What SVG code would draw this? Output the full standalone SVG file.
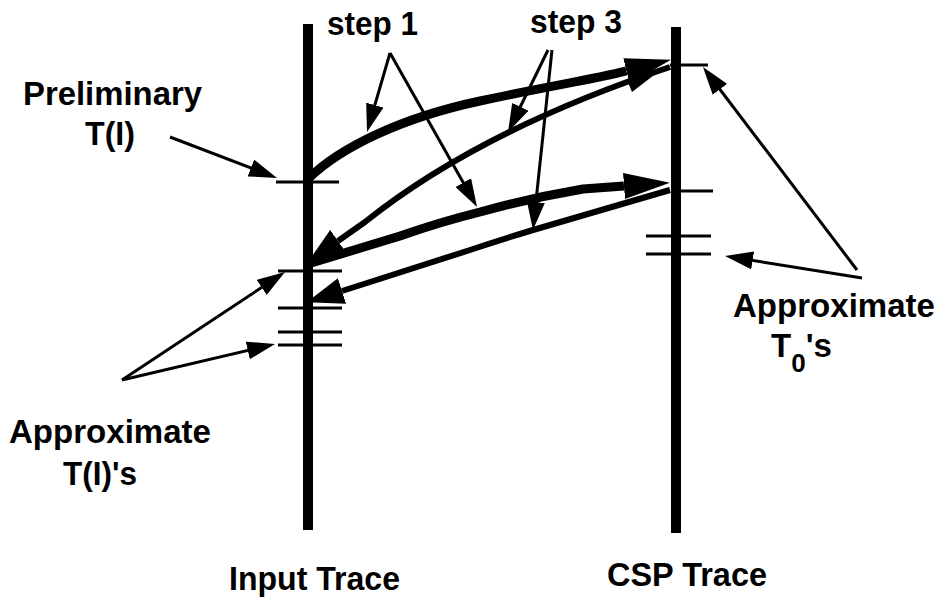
<svg xmlns="http://www.w3.org/2000/svg" width="938" height="597" viewBox="0 0 938 597">
<style>
.txt{font-family:"Liberation Sans",Arial,sans-serif;font-weight:bold;font-size:33px;fill:#000}
.trace{stroke:#000;stroke-width:10;fill:none}
.tick{stroke:#000;stroke-width:3;fill:none}
.thick{stroke:#000;stroke-width:9;fill:none;stroke-linejoin:round;marker-end:url(#bigHead)}
.thin{stroke:#000;stroke-width:6;fill:none;stroke-linejoin:round;marker-end:url(#midHead)}
.lab{stroke:#000;stroke-width:3;fill:none;marker-end:url(#labHead)}
</style>
<defs>
<marker id="bigHead" viewBox="0 0 46 26" refX="0" refY="13" markerWidth="46" markerHeight="26" markerUnits="userSpaceOnUse" orient="auto"><path d="M0,0 L46,13 L0,26 z" fill="#000"/></marker>
<marker id="midHead" viewBox="0 0 37 27" refX="0" refY="13.5" markerWidth="37" markerHeight="27" markerUnits="userSpaceOnUse" orient="auto"><path d="M0,0 L37,13.5 L0,27 z" fill="#000"/></marker>
<marker id="labHead" viewBox="0 0 28 18" refX="18" refY="9" markerWidth="28" markerHeight="18" markerUnits="userSpaceOnUse" orient="auto"><path d="M0,0 L28,9 L0,18 z" fill="#000"/></marker>
</defs>
<rect width="938" height="597" fill="#fff"/>

<g id="input-trace">
<line class="trace" x1="308" y1="24" x2="308" y2="530"/>
<line class="tick" x1="276" y1="182" x2="339" y2="182"/>
<line class="tick" x1="278" y1="271" x2="342" y2="271"/>
<line class="tick" x1="278" y1="308" x2="342" y2="308"/>
<line class="tick" x1="278" y1="332" x2="342" y2="332"/>
<line class="tick" x1="278" y1="345" x2="342" y2="345"/>
<text class="txt" x="229" y="590" textLength="171" lengthAdjust="spacingAndGlyphs">Input Trace</text>
</g>

<g id="csp-trace">
<line class="trace" x1="676" y1="27" x2="676" y2="533"/>
<line class="tick" x1="670" y1="65" x2="708" y2="65"/>
<line class="tick" x1="676" y1="191" x2="713" y2="191"/>
<line class="tick" x1="646" y1="236" x2="711" y2="236"/>
<line class="tick" x1="646" y1="254" x2="711" y2="254"/>
<text class="txt" x="607" y="586" textLength="160" lengthAdjust="spacingAndGlyphs">CSP Trace</text>
</g>

<g id="label-step1"><text class="txt" x="327" y="35" textLength="91" lengthAdjust="spacingAndGlyphs">step 1</text></g>
<g id="label-step3"><text class="txt" x="530" y="33" textLength="92" lengthAdjust="spacingAndGlyphs">step 3</text></g>
<g id="label-preliminary"><text class="txt" x="23" y="105" textLength="179" lengthAdjust="spacingAndGlyphs">Preliminary</text><text class="txt" x="85" y="145" textLength="50" lengthAdjust="spacingAndGlyphs">T(I)</text></g>
<g id="label-approx-ti"><text class="txt" x="9" y="443" textLength="202" lengthAdjust="spacingAndGlyphs">Approximate</text><text class="txt" x="63" y="485" textLength="74" lengthAdjust="spacingAndGlyphs">T(I)'s</text></g>
<g id="label-approx-t0"><text class="txt" x="733" y="317" textLength="202" lengthAdjust="spacingAndGlyphs">Approximate</text><text class="txt" x="771" y="357">T<tspan dy="15" font-size="26">0</tspan><tspan dy="-15">'s</tspan></text></g>

<g id="connectors">
<path class="thick" d="M309,178 C340,148 400,118 480,101 S590,80 626.4,70.9"/>
<path class="thin" d="M670,67 Q480,130 365,222 L338,241"/>
<polygon points="662,69 627,80 632,92" fill="#000"/>
<path class="thick" d="M308,264 L400,236 Q440,222 480,212 Q530,198 583,189 L624,186"/>
<path class="thin" d="M670,190 L533,230 Q500,240 470,250 L342,291"/>
<line class="lab" x1="170" y1="137" x2="267.7" y2="174.4"/>
<line class="lab" x1="122" y1="380" x2="276.7" y2="277.5"/>
<line class="lab" x1="122" y1="380" x2="265.3" y2="346.3"/>
<line class="lab" x1="857" y1="270" x2="709" y2="75"/>
<line class="lab" x1="862" y1="278" x2="734.9" y2="257.6"/>
<line class="lab" x1="390" y1="53" x2="369.8" y2="122.4"/>
<line class="lab" x1="390" y1="53" x2="472.1" y2="198.3"/>
<line class="lab" x1="548" y1="50" x2="512.4" y2="123"/>
<line class="lab" x1="552" y1="50" x2="534" y2="220"/>
</g>
</svg>
